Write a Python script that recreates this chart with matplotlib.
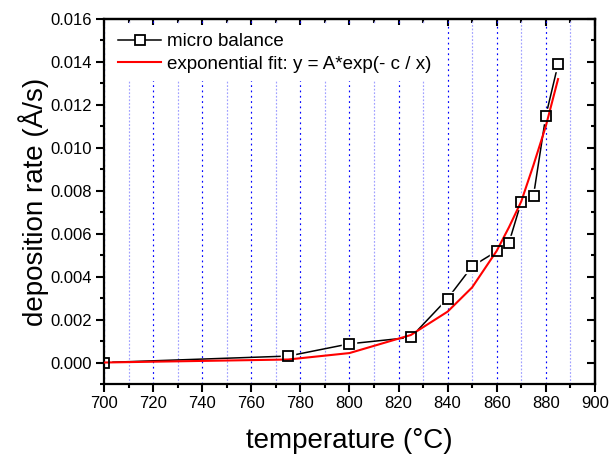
import matplotlib
matplotlib.use("Agg")
import matplotlib.pyplot as plt
from matplotlib.ticker import MultipleLocator, FormatStrFormatter

plt.rcParams['font.family'] = ['Liberation Sans', 'DejaVu Sans']

# measured data (micro balance)
temp = [700, 775, 800, 825, 840, 850, 860, 865, 870, 875, 880, 885]
rate = [0.0, 0.0003, 0.00087, 0.00117, 0.00298, 0.00448, 0.00518, 0.00558, 0.00748, 0.00777, 0.01148, 0.01389]

# exponential fit curve at the same temperatures
fit_temp = [700, 775, 800, 825, 840, 850, 860, 865, 870, 875, 880, 885]
fit_rate = [0.0, 0.00014, 0.00044, 0.00128, 0.00237, 0.00350, 0.0052, 0.0063, 0.0075, 0.0092, 0.0110, 0.0132]

legend_labels = ["micro balance", "exponential fit: y = A*exp(- c / x)"]

fig = plt.figure(figsize=(6.12, 4.58), dpi=100)
ax = fig.add_axes([0.170, 0.1616, 0.802, 0.797])

ax.set_xlim(700, 900)
ax.set_ylim(-0.001, 0.016)

ax.xaxis.set_major_locator(MultipleLocator(20))
ax.xaxis.set_minor_locator(MultipleLocator(10))
ax.yaxis.set_major_locator(MultipleLocator(0.002))
ax.yaxis.set_minor_locator(MultipleLocator(0.001))
ax.yaxis.set_major_formatter(FormatStrFormatter('%.3f'))
ax.grid(True, which='major', axis='x', color='#0000ff', linestyle=(0, (1.5, 3)), linewidth=0.85, zorder=0)
ax.grid(True, which='minor', axis='x', color='#a0a0ff', linestyle=(0, (1.5, 1.5)), linewidth=0.85, zorder=0)
ax.set_axisbelow(True)

# black connecting line
ax.plot(temp, rate, color='black', linewidth=1.1, zorder=2)
# white masks around markers to produce gaps
ax.plot(temp, rate, linestyle='none', marker='s', markersize=10.5,
        markerfacecolor='white', markeredgecolor='white', zorder=2.5)
# fit line
ax.plot(fit_temp, fit_rate, color='#ff0000', linewidth=1.5, zorder=3)
# open square markers
ax.plot(temp, rate, linestyle='none', marker='s', markersize=6.8,
        markerfacecolor='none', markeredgecolor='black', markeredgewidth=1.3, zorder=4)

# legend proxies
h1, = ax.plot([], [], color='black', linewidth=1.1, marker='s', markersize=6.8,
              markerfacecolor='white', markeredgecolor='black', markeredgewidth=1.3)
h2, = ax.plot([], [], color='#ff0000', linewidth=1.5)
leg = ax.legend([h1, h2], legend_labels, loc='upper left', fontsize=13.5,
                frameon=True, fancybox=False, framealpha=1, facecolor='white',
                edgecolor='none', handlelength=2.3, handletextpad=0.3,
                borderaxespad=0.3, labelspacing=0.3, borderpad=0.45)
leg.set_zorder(5)

for s in ax.spines.values():
    s.set_linewidth(1.6)

ax.tick_params(axis='both', which='major', labelsize=12, width=1.5, length=5.5)
ax.tick_params(axis='both', which='minor', width=1.5, length=3)
ax.tick_params(axis='x', which='both', direction='out', top=False)
ax.tick_params(axis='y', which='both', direction='out', right=False)

axt = ax.secondary_xaxis('top')
axt.xaxis.set_major_locator(MultipleLocator(20))
axt.xaxis.set_minor_locator(MultipleLocator(10))
axt.tick_params(which='major', direction='in', length=5, width=1.5, labeltop=False)
axt.tick_params(which='minor', direction='in', length=3, width=1.5)
axt.spines['top'].set_linewidth(1.6)
axr = ax.secondary_yaxis('right')
axr.yaxis.set_major_locator(MultipleLocator(0.002))
axr.yaxis.set_minor_locator(MultipleLocator(0.001))
axr.tick_params(which='major', direction='in', length=5.5, width=1.5, labelright=False)
axr.tick_params(which='minor', direction='in', length=3, width=1.5)
axr.spines['right'].set_linewidth(1.6)

ax.set_xlabel("temperature (°C)", fontsize=20, labelpad=12)
ax.set_ylabel("deposition rate (Å/s)", fontsize=20, labelpad=1)

fig.savefig("out.png", dpi=100)
